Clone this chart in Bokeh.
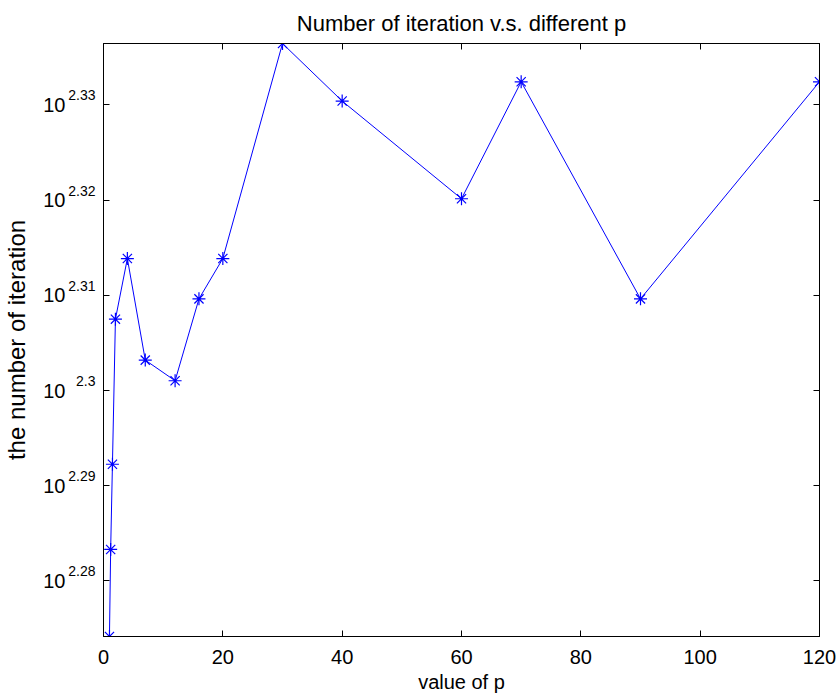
from bokeh.plotting import figure
from bokeh.models import Range1d, FixedTicker, LinearAxis, LogAxis
from bokeh.embed import file_html
from bokeh.resources import INLINE

# data
p_values = [1, 1.2, 1.5, 2, 4, 7, 12, 16, 20, 30, 40, 60, 70, 90, 120]
iterations = [188, 192, 196, 203, 206, 201, 200, 204, 206, 217, 214, 209, 215, 204, 215]
y_tick_exponents = [2.28, 2.29, 2.30, 2.31, 2.32, 2.33]
y_tick_labels = ["2.28", "2.29", "2.3", "2.31", "2.32", "2.33"]
x_ticks = [0, 20, 40, 60, 80, 100, 120]

FONT = "Liberation Sans"
y_ticks = [10 ** e for e in y_tick_exponents]

p = figure(frame_width=716, frame_height=593, y_axis_type="log",
           x_range=Range1d(0, 120), y_range=Range1d(188, 217),
           output_backend="svg", toolbar_location=None,
           min_border_left=102, min_border_right=19, min_border_top=43, min_border_bottom=63,
           title="Number of iteration v.s. different p")
p.title.align = "center"
p.title.text_font = FONT
p.title.text_font_size = "22px"
p.title.text_font_style = "normal"
p.title.text_color = "black"
p.title.standoff = 16
p.background_fill_color = "white"
p.border_fill_color = "white"
p.outline_line_color = "black"
p.outline_line_width = 1
p.grid.visible = False

p.line(p_values, iterations, line_color="blue", line_width=1)
p.scatter(p_values, iterations, marker="asterisk", size=13, line_color="blue", line_width=1.2)

def style(ax):
    ax.major_tick_in = 6
    ax.major_tick_out = 0
    ax.minor_tick_line_color = None
    ax.axis_line_color = "black"
    ax.major_tick_line_color = "black"
    ax.major_label_text_font = FONT
    ax.major_label_text_font_size = "20px"
    ax.major_label_text_color = "black"
    ax.axis_label_text_font = FONT
    ax.axis_label_text_font_size = "20px"
    ax.axis_label_text_font_style = "normal"
    ax.axis_label_text_color = "black"

# bottom axis
xa = p.xaxis[0]
xa.ticker = FixedTicker(ticks=x_ticks)
style(xa)
xa.axis_label = "value of p"
xa.major_label_standoff = 13
xa.axis_label_standoff = 4

# left axis nearest the frame: tick marks + exponents (superscripts)
ya = p.yaxis[0]
ya.ticker = FixedTicker(ticks=y_ticks)
style(ya)
ya.major_label_text_font_size = "14px"
ya.major_label_standoff = 8
ya.major_label_overrides = {t: lab + "\n" for t, lab in zip(y_ticks, y_tick_labels)}

# outer left axis: the base "10" of every tick label, and the axis title
base = LogAxis(ticker=FixedTicker(ticks=y_ticks))
style(base)
base.axis_line_color = None
base.major_tick_line_color = None
base.major_label_standoff = 0
base.major_label_overrides = {t: "10" for t in y_ticks}
base.axis_label = "the number of iteration"
base.axis_label_text_font_size = "24px"
base.axis_label_standoff = 10
p.add_layout(base, "left")

# box ticks on top and right (no labels)
top = LinearAxis(ticker=FixedTicker(ticks=x_ticks))
style(top)
top.major_label_overrides = {t: "" for t in x_ticks}
top.major_label_text_font_size = "2px"
top.major_label_standoff = 0
p.add_layout(top, "above")
right = LogAxis(ticker=FixedTicker(ticks=y_ticks))
style(right)
right.major_label_overrides = {t: "" for t in y_ticks}
right.major_label_text_font_size = "2px"
right.major_label_standoff = 0
p.add_layout(right, "right")

open("out.html", "w").write(file_html(p, INLINE))
